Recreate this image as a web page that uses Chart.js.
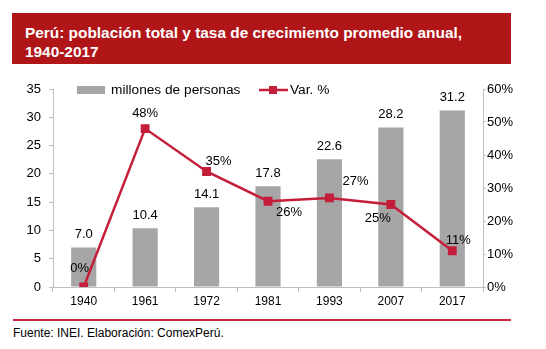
<!DOCTYPE html>
<html>
<head>
<meta charset="utf-8">
<script src="https://cdn.jsdelivr.net/npm/chart.js@4"></script>
<style>
  body { margin: 0; width: 546px; height: 349px; background: #fff; font-family: "Liberation Sans", Arial, sans-serif; position: relative; overflow: hidden; }
  #title { position: absolute; left: 12px; top: 13px; width: 499px; height: 51px; background: #B01518; color: #fff; font-weight: bold; font-size: 15.4px; line-height: 19px; box-sizing: border-box; padding: 10px 0 0 13px; }
  #wrap { position: absolute; left: 0; top: 70px; width: 546px; height: 245px; }
  #rule { position: absolute; left: 13px; top: 319px; width: 498px; height: 2px; background: #C8283C; }
  #foot { position: absolute; left: 13px; top: 326px; font-size: 12px; color: #000; }
</style>
</head>
<body>
<div id="title">Perú: población total y tasa de crecimiento promedio anual,<br>1940-2017</div>
<div id="wrap"><canvas id="popChart"></canvas></div>
<div id="rule"></div>
<div id="foot">Fuente: INEI. Elaboración: ComexPerú.</div>
<script>
const years = ['1940', '1961', '1972', '1981', '1993', '2007', '2017'];
const poblacion = [7.0, 10.4, 14.1, 17.8, 22.6, 28.2, 31.2];
const variacion = [0, 48, 35, 26, 27, 25, 11];
const varLabels = ['0%', '48%', '35%', '26%', '27%', '25%', '11%'];
// label offsets for the % labels (dx, dy from the point)
const varOffsets = [[-4, -19], [0, -15], [12, -10], [21, 11], [26, -16], [-13, 14], [6, -10]];

const RED = '#C41E3A';
const GREY = '#A6A6A6';
const FONT = '"Liberation Sans", Arial, sans-serif';

const labelPlugin = { // draws value labels and the legend
    id: 'labelPlugin',
    afterDatasetsDraw(chart) {
        const ctx = chart.ctx;
        ctx.save();
        ctx.font = '13px ' + FONT;
        ctx.fillStyle = '#000';
        ctx.textAlign = 'center';
        ctx.textBaseline = 'middle';
        chart.getDatasetMeta(1).data.forEach((bar, i) => {
            ctx.fillText(poblacion[i].toFixed(1), bar.x, bar.y - 13);
        });
        chart.getDatasetMeta(0).data.forEach((pt, i) => {
            ctx.fillText(varLabels[i], pt.x + varOffsets[i][0], pt.y + varOffsets[i][1]);
        });

        // legend
        const top = chart.chartArea.top;
        ctx.font = '13.7px ' + FONT;
        ctx.textAlign = 'left';
        ctx.fillStyle = GREY;
        ctx.fillRect(77, top - 3, 28, 8);
        ctx.fillStyle = '#000';
        ctx.fillText('millones de personas', 111, top + 1);
        ctx.strokeStyle = RED;
        ctx.lineWidth = 2.5;
        ctx.beginPath();
        ctx.moveTo(259, top + 1);
        ctx.lineTo(288, top + 1);
        ctx.stroke();
        ctx.fillStyle = RED;
        ctx.fillRect(269, top - 3, 8, 8);
        ctx.fillStyle = '#000';
        ctx.fillText('Var. %', 290, top + 1);
        ctx.restore();
    }
};

const ctx = document.getElementById('popChart').getContext('2d');

const popChart = new Chart(ctx, {
    data: {
        labels: years,
        datasets: [{
            type: 'line',
            label: 'Var. %',
            data: variacion,
            yAxisID: 'y2',
            borderColor: RED,
            backgroundColor: RED,
            borderWidth: 2.5,
            pointStyle: 'rect',
            pointRadius: 4.5,
            pointHoverRadius: 4.5,
            tension: 0,
            order: 0
        }, {
            type: 'bar',
            label: 'millones de personas',
            data: poblacion,
            yAxisID: 'y',
            backgroundColor: GREY,
            barPercentage: 0.41,
            categoryPercentage: 1,
            order: 1
        }]
    },
    options: {
        responsive: true,
        maintainAspectRatio: false,
        animation: false,
        layout: { padding: { top: 19, left: 0, right: 0, bottom: 0 } },
        plugins: {
            legend: { display: false },
            tooltip: { enabled: false }
        },
        scales: {
            x: {
                offset: true,
                grid: { offset: true, drawOnChartArea: false, drawTicks: true, tickLength: 5, color: '#BFBFBF' },
                border: { color: '#BFBFBF' },
                ticks: { color: '#000', font: { family: FONT, size: 12 }, padding: 2 },
                afterFit(scale) { scale.height = 28; }
            },
            y: {
                position: 'left',
                min: 0,
                max: 35,
                grid: { drawOnChartArea: false, drawTicks: true, tickLength: 4, color: '#BFBFBF' },
                border: { color: '#BFBFBF' },
                ticks: { stepSize: 5, color: '#000', font: { family: FONT, size: 13 }, padding: 8 },
                afterFit(scale) { scale.width = 53; }
            },
            y2: {
                position: 'right',
                min: 0,
                max: 60,
                grid: { drawOnChartArea: false, drawTicks: true, tickLength: 3, color: '#BFBFBF' },
                border: { color: '#BFBFBF' },
                ticks: {
                    stepSize: 10,
                    color: '#000',
                    font: { family: FONT, size: 13 },
                    padding: 1,
                    callback: function(value) { return value + '%'; }
                },
                afterFit(scale) { scale.width = 63; }
            }
        }
    },
    plugins: [labelPlugin]
});
</script>
</body>
</html>
